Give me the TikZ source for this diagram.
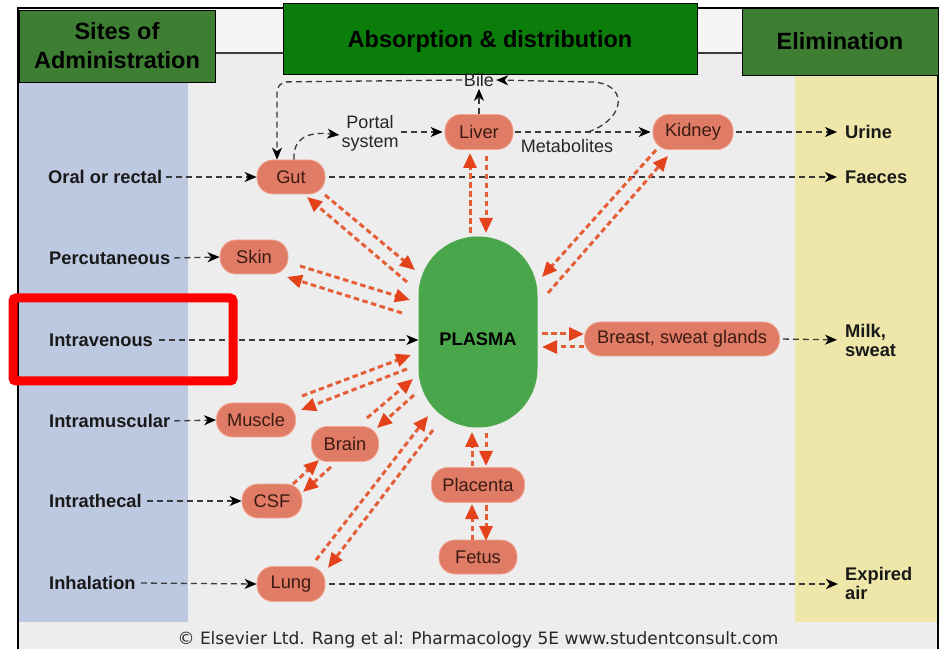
\documentclass[tikz,border=0pt]{standalone}
\usepackage{fontspec}
\setmainfont{Liberation Sans}
\newfontfamily\footfont{DejaVu Sans}
\usetikzlibrary{arrows.meta,calc}
\definecolor{bggrey}{HTML}{EDEDED}
\definecolor{bandblue}{HTML}{BDC9E1}
\definecolor{bandyellow}{HTML}{EEE7A9}
\definecolor{hdrgreen}{HTML}{3D7E33}
\definecolor{absgreen}{HTML}{0B7D0B}
\definecolor{salmon}{HTML}{E07C66}
\definecolor{salmonedge}{HTML}{F2A590}
\definecolor{organtext}{HTML}{3B1A12}
\definecolor{plasmagreen}{HTML}{4AA64A}
\definecolor{rdash}{HTML}{E45E38}
\definecolor{rhead}{HTML}{E3421B}
\definecolor{bline}{HTML}{3A3A3A}
\definecolor{hilite}{HTML}{FF0000}
\begin{document}
\begin{tikzpicture}[x=1pt,y=-1pt,
  organ/.style={draw=salmonedge, line width=0.8pt, fill=salmon, rounded corners=16pt,
    minimum height=34pt, inner sep=0pt, text=organtext,
    font=\fontsize{18.3}{20}\selectfont},
  sitelab/.style={inner sep=0pt, anchor=west, text=black!90,
    font=\bfseries\fontsize{18.3}{19}\selectfont, align=left},
  plainlab/.style={inner sep=2pt, text=black!85, font=\fontsize{18}{18}\selectfont, align=center},
  header/.style={draw=black, line width=0.8pt, font=\bfseries\fontsize{23.5}{26}\selectfont,
    text=black, align=center, inner sep=0pt},
  bdash/.style={draw=bline, line width=1.3pt, dash pattern=on 6pt off 4pt,
    -{Stealth[length=12pt,width=10pt,inset=3.5pt,color=black]}},
  rl/.style={draw=rdash, line width=3pt, dash pattern=on 5.5pt off 3.5pt,
    -{Triangle[length=15pt,width=13pt,color=rhead]}}
]
% canvas
\fill[white] (0,0) rectangle (940,649);
\fill[bggrey] (18,53) rectangle (938,649);
\fill[white!96!black] (18,8) rectangle (938,53);
\fill[bandblue] (19,82) rectangle (188,622);
\fill[bandyellow] (795,75) rectangle (937,622);
\draw[line width=2pt] (18,649) -- (18,8) -- (938,8) -- (938,649);
\draw[bline, line width=1.5pt] (215,53) -- (283,53);
\draw[bline, line width=1.5pt] (697,53) -- (742,53);

% headers
\node[header, fill=hdrgreen, minimum width=196pt, minimum height=72pt] (hsites) at (117,46) {Sites of\\[3pt]Administration};
\node[header, fill=absgreen, minimum width=414pt, minimum height=71pt] (habs) at (490,38.5) {};
\node[font=\bfseries\fontsize{23.5}{26}\selectfont, text=black] (habstext) at (490,41.5) {Absorption \& distribution};
\node[header, fill=hdrgreen, minimum width=196pt, minimum height=67pt] (helim) at (840,41.5) {Elimination};

% organs
\node[organ, minimum width=68pt] (gut) at (291,177) {Gut};
\node[organ, minimum width=68pt, minimum height=35pt] (liver) at (479,132) {Liver};
\node[organ, minimum width=80pt, minimum height=35pt] (kidney) at (693,132) {Kidney};
\node[organ, minimum width=68pt] (skin) at (254,257) {Skin};
\node[organ, minimum width=79pt] (muscle) at (256,420) {Muscle};
\node[organ, minimum width=67pt, minimum height=35pt] (brain) at (345,444) {Brain};
\node[organ, minimum width=60pt] (csf) at (272,501) {CSF};
\node[organ, minimum width=68pt, minimum height=35pt] (lung) at (291,584) {Lung};
\node[organ, minimum width=93pt, minimum height=35pt] (placenta) at (478,485) {Placenta};
\node[organ, minimum width=78pt] (fetus) at (478,557) {Fetus};
\node[organ, minimum width=195pt] (breast) at (682,339) {Breast, sweat glands};
\node[fill=plasmagreen, rounded corners=59pt, minimum width=119pt, minimum height=191pt,
  inner sep=0pt] (plasma) at (478,332) {};
\node[font=\bfseries\fontsize{18.3}{20}\selectfont, text=black] (plasmatext) at (478,339) {PLASMA};

% sites of administration
\node[sitelab] (oral) at (48,177) {Oral or rectal};
\node[sitelab] (perc) at (49,258) {Percutaneous};
\node[sitelab] (iv) at (49,340) {Intravenous};
\node[sitelab] (im) at (49,421) {Intramuscular};
\node[sitelab] (ith) at (49,501) {Intrathecal};
\node[sitelab] (inh) at (49,583) {Inhalation};

% elimination labels
\node[sitelab] (urine) at (845,132) {Urine};
\node[sitelab] (faeces) at (845,177) {Faeces};
\node[sitelab] (milk) at (845,340) {Milk,\\sweat};
\node[sitelab] (expired) at (845,583) {Expired\\air};

% other labels
\node[plainlab] (bile) at (479,80) {Bile};
\node[plainlab, font=\fontsize{18}{19}\selectfont] (portal) at (370,133) {Portal\\system};
\node[plainlab] (metab) at (567,146) {Metabolites};

% black dashed connectors
\draw[bdash, shorten <=4pt] (oral.east) -- (gut.west);
\draw[bdash, shorten <=4pt] (perc.east) -- (skin.west);
\draw[bdash, shorten <=6pt] (iv.east) -- (plasma.west |- iv.east);
\draw[bdash, shorten <=4pt] (im.east) -- (muscle.west);
\draw[bdash, shorten <=5pt] (ith.east) -- (csf.west);
\draw[bdash, shorten <=5pt] (inh.east) -- (lung.west);
\draw[bdash, shorten <=4pt, shorten >=8pt] (gut.east) -- (faeces.west);
\draw[bdash, shorten <=3pt, shorten >=8pt] (kidney.east) -- (urine.west);
\draw[bdash, shorten <=3pt, shorten >=8pt] (breast.east) -- (milk.west);
\draw[bdash, shorten <=4pt, shorten >=7pt] (lung.east) -- (expired.west |- lung.east);
\draw[bdash, shorten <=2pt, shorten >=2pt] (liver.east) -- (kidney.west);
\draw[bdash, shorten >=2pt] (portal.east |- liver.west) -- (liver.west);
\draw[bdash] ([xshift=3pt]gut.north) .. controls (293,140) and (305,131) .. ([yshift=-2pt]portal.west);
\draw[bdash] (liver.north) -- (bile.south);
\coordinate (metstart) at (588,132);
\draw[bdash] (metstart) .. controls (628,118) and (628,82) .. (590,82) -- (bile.east);
\draw[bdash, rounded corners=10pt] (bile.west) -- (277,82) -- ([xshift=-14pt]gut.north);

% red exchange arrows
\draw[rl] (407,282) -- (307,197);
\draw[rl] (325,195) -- (415,270);
\draw[rl] (402,313) -- (287,277);
\draw[rl] (300,266) -- (410,300);
\draw[rl] (470,233) -- (470,153);
\draw[rl] (486,156) -- (486,233);
\draw[rl] (656,150) -- (542,277);
\draw[rl] (548,293) -- (668,156);
\draw[rl] (542,334) -- (584,334);
\draw[rl] (584,347) -- (542,347);
\draw[rl] (302,396) -- (411,355);
\draw[rl] (407,369) -- (301,410);
\draw[rl] (367,418) -- (413,379);
\draw[rl] (414,395) -- (377,428);
\draw[rl] (293,484) -- (319,460);
\draw[rl] (331,467) -- (303,492);
\draw[rl] (316,560) -- (428,416);
\draw[rl] (433,430) -- (328,568);
\draw[rl] (472,466) -- (472,432);
\draw[rl] (486,433) -- (486,466);
\draw[rl] (472,540) -- (472,504);
\draw[rl] (486,505) -- (486,541);

% footer
\node[font=\footfont\fontsize{17}{18}\selectfont, text=black!85] (credit) at (478,640)
  {© Elsevier Ltd. Rang et al: Pharmacology 5E www.studentconsult.com};

% highlight box
\draw[hilite, line width=9pt, rounded corners=3pt] (13,298) rectangle (233,381);
\end{tikzpicture}
\end{document}
